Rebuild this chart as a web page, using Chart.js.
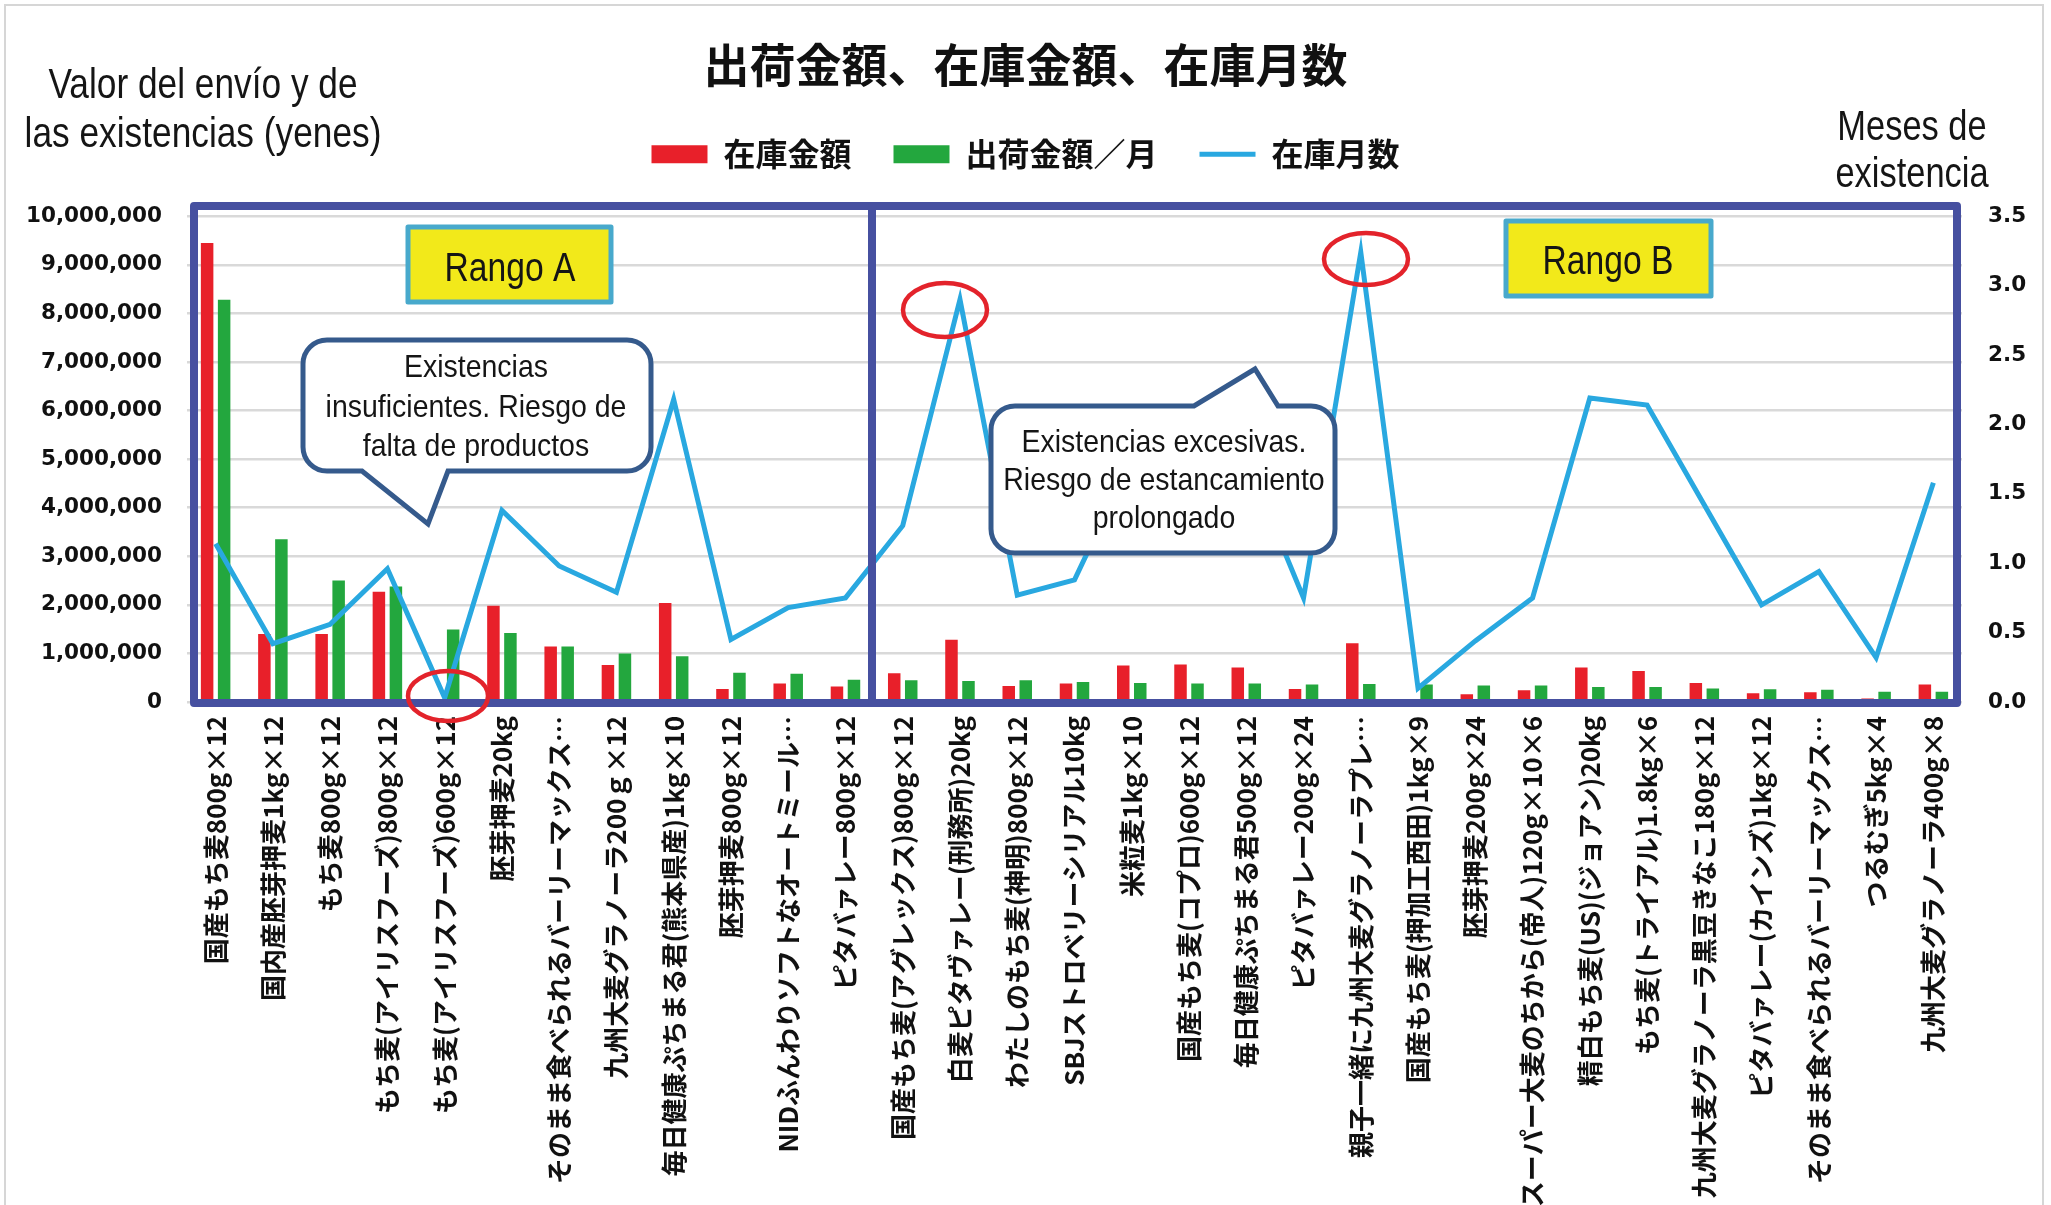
<!DOCTYPE html>
<html>
<head>
<meta charset="utf-8">
<script src="https://cdn.jsdelivr.net/npm/chart.js@4.4.1/dist/chart.umd.min.js"></script>
<style>
html,body{margin:0;padding:0;background:#fff;overflow:hidden}
#wrap{width:2051px;height:1205px;position:relative}
</style>
</head>
<body>
<div id="wrap"><canvas id="c" width="2051" height="1205"></canvas></div>
<script>
// ---------- data ----------
const categories = [
  "国産もち麦800g×12",
  "国内産胚芽押麦1kg×12",
  "もち麦800g×12",
  "もち麦(アイリスフーズ)800g×12",
  "もち麦(アイリスフーズ)600g×12",
  "胚芽押麦20kg",
  "そのまま食べられるバーリーマックス…",
  "九州大麦グラノーラ200ｇ×12",
  "毎日健康ぷちまる君(熊本県産)1kg×10",
  "胚芽押麦800g×12",
  "NIDふんわりソフトなオートミール…",
  "ピタバァレー800g×12",
  "国産もち麦(アグレックス)800g×12",
  "白麦ピタヴァレー(刑務所)20kg",
  "わたしのもち麦(神明)800g×12",
  "SBJストロベリーシリアル10kg",
  "米粒麦1kg×10",
  "国産もち麦(コプロ)600g×12",
  "毎日健康ぷちまる君500g×12",
  "ピタバァレー200g×24",
  "親子一緒に九州大麦グラノーラプレ…",
  "国産もち麦(押加工西田)1kg×9",
  "胚芽押麦200g×24",
  "スーパー大麦のちから(帝人)120g×10×6",
  "精白もち麦(US)(ジョアン)20kg",
  "もち麦(トライアル)1.8kg×6",
  "九州大麦グラノーラ黒豆きなこ180g×12",
  "ピタバァレー(カインズ)1kg×12",
  "そのまま食べられるバーリーマックス…",
  "つるむぎ5kg×4",
  "九州大麦グラノーラ400g×8"
];
// 在庫金額 (yen)
const stockValue = [
  9450000, 1400000, 1400000, 2270000, 40000, 1980000, 1140000, 760000, 2040000, 270000, 380000, 320000,
  590000, 1280000, 330000, 380000, 750000, 770000, 710000, 270000, 1210000, 36000, 160000, 240000,
  710000, 640000, 390000, 180000, 200000, 70000, 360000
];
// 出荷金額／月 (yen)
const shipValue = [
  8280000, 3350000, 2500000, 2380000, 1490000, 1420000, 1140000, 1000000, 940000, 600000, 580000, 460000,
  450000, 430000, 450000, 410000, 390000, 380000, 380000, 360000, 370000, 360000, 340000, 340000,
  310000, 310000, 280000, 260000, 250000, 210000, 210000
];
// 在庫月数 (months)
const stockMonths = [
  1.14, 0.42, 0.56, 0.96, 0.03, 1.38, 0.98, 0.79, 2.18, 0.45, 0.68, 0.75,
  1.27, 2.90, 0.77, 0.88, 1.75, 1.95, 1.75, 0.75, 3.24, 0.10, 0.44, 0.75,
  2.19, 2.14, 1.42, 0.70, 0.94, 0.32, 1.58
];
const seriesNames = ["在庫金額", "出荷金額／月", "在庫月数"];
const chartTitle = "出荷金額、在庫金額、在庫月数";
const leftAxisMax = 10000000, leftAxisStep = 1000000;
const rightAxisMax = 3.5, rightAxisStep = 0.5;
const leftAxisTitle = ["Valor del envío y de", "las existencias (yenes)"];
const rightAxisTitle = ["Meses de", "existencia"];
const calloutLow = ["Existencias", "insuficientes. Riesgo de", "falta de productos"];
const calloutHigh = ["Existencias excesivas.", "Riesgo de estancamiento", "prolongado"];
const rangeLabels = ["Rango A", "Rango B"];

// ---------- helpers ----------
function narrowText(ctx, text, x, y, size, sx, weight) {
  ctx.save();
  ctx.translate(x, y);
  ctx.scale(sx, 1);
  ctx.font = (weight || 'normal') + ' ' + size + "px 'Liberation Sans', Arial, sans-serif";
  ctx.textAlign = 'center';
  ctx.textBaseline = 'alphabetic';
  ctx.fillStyle = '#151515';
  ctx.fillText(text, 0, 0);
  ctx.restore();
}

const bgPlugin = {
  id: 'bg',
  beforeDraw(chart) {
    const ctx = chart.ctx;
    ctx.save();
    ctx.fillStyle = '#ffffff';
    ctx.fillRect(0, 0, chart.width, chart.height);
    ctx.strokeStyle = '#d6d6d6';
    ctx.lineWidth = 2;
    ctx.strokeRect(5, 5, 2038, 1215);
    ctx.restore();
  }
};

const annotPlugin = {
  id: 'annot',
  afterDraw(chart) {
    const ctx = chart.ctx;
    ctx.save();
    // axis titles
    narrowText(ctx, leftAxisTitle[0], 203, 98, 42, 0.84);
    narrowText(ctx, leftAxisTitle[1], 203, 147, 42, 0.84);
    narrowText(ctx, rightAxisTitle[0], 1912, 140, 42, 0.82);
    narrowText(ctx, rightAxisTitle[1], 1912, 187, 42, 0.82);

    // range frames
    ctx.strokeStyle = '#4650a0';
    ctx.lineWidth = 8;
    ctx.lineJoin = 'round';
    ctx.strokeRect(194, 206, 678, 497);
    ctx.strokeRect(872, 206, 1085, 497);

    // range label boxes
    const rb = [[408, 227, 203, 75, 510, 281], [1506, 221, 205, 75, 1608, 274]];
    rb.forEach((b, i) => {
      ctx.fillStyle = '#f2e91a';
      ctx.fillRect(b[0], b[1], b[2], b[3]);
      ctx.strokeStyle = '#48a9cc';
      ctx.lineWidth = 5;
      ctx.strokeRect(b[0], b[1], b[2], b[3]);
      narrowText(ctx, rangeLabels[i], b[4], b[5], 41, 0.82);
    });

    // callouts
    function callout(L, T, R, B, r, tail, top) {
      ctx.beginPath();
      ctx.moveTo(L + r, T);
      if (top) { ctx.lineTo(tail[0], T); ctx.lineTo(tail[1], tail[2]); ctx.lineTo(tail[3], T); }
      ctx.lineTo(R - r, T);
      ctx.arcTo(R, T, R, T + r, r);
      ctx.lineTo(R, B - r);
      ctx.arcTo(R, B, R - r, B, r);
      if (!top) { ctx.lineTo(tail[3], B); ctx.lineTo(tail[1], tail[2]); ctx.lineTo(tail[0], B); }
      ctx.lineTo(L + r, B);
      ctx.arcTo(L, B, L, B - r, r);
      ctx.lineTo(L, T + r);
      ctx.arcTo(L, T, L + r, T, r);
      ctx.closePath();
      ctx.fillStyle = '#ffffff';
      ctx.fill();
      ctx.strokeStyle = '#355a8c';
      ctx.lineWidth = 5;
      ctx.lineJoin = 'miter';
      ctx.stroke();
    }
    callout(303, 340, 651, 471, 24, [362, 428, 524, 448], false);
    narrowText(ctx, calloutLow[0], 476, 377, 32, 0.89);
    narrowText(ctx, calloutLow[1], 476, 417, 32, 0.89);
    narrowText(ctx, calloutLow[2], 476, 456, 32, 0.89);

    callout(991, 406, 1335, 553, 24, [1194, 1255, 369, 1278], true);
    narrowText(ctx, calloutHigh[0], 1164, 452, 32, 0.89);
    narrowText(ctx, calloutHigh[1], 1164, 490, 32, 0.89);
    narrowText(ctx, calloutHigh[2], 1164, 528, 32, 0.89);

    // red ellipses
    ctx.strokeStyle = '#e3232b';
    ctx.lineWidth = 4.5;
    [[448, 696, 40, 25], [945, 310, 42, 27], [1366, 259, 42, 26]].forEach(e => {
      ctx.beginPath();
      ctx.ellipse(e[0], e[1], e[2], e[3], 0, 0, Math.PI * 2);
      ctx.stroke();
    });
    ctx.restore();
  }
};

const tickFont = { family: "'DejaVu Sans', sans-serif", size: 21.5, weight: 'bold' };
const cjk = "'Noto Sans CJK JP', 'Noto Sans CJK SC', sans-serif";

new Chart(document.getElementById('c'), {
  data: {
    labels: categories,
    datasets: [
      {
        type: 'bar', label: seriesNames[0], data: stockValue, yAxisID: 'y',
        backgroundColor: '#e8202a', borderWidth: 0, order: 1,
        categoryPercentage: 0.594, barPercentage: 0.735
      },
      {
        type: 'bar', label: seriesNames[1], data: shipValue, yAxisID: 'y',
        backgroundColor: '#23a73e', borderWidth: 0, order: 2,
        categoryPercentage: 0.594, barPercentage: 0.735
      },
      {
        type: 'line', label: seriesNames[2], data: stockMonths, yAxisID: 'y1',
        borderColor: '#29a8e0', backgroundColor: '#29a8e0', borderWidth: 5,
        pointRadius: 0, tension: 0, order: 0, pointStyle: 'line', borderJoinStyle: 'miter'
      }
    ]
  },
  options: {
    responsive: false,
    animation: false,
    layout: { padding: { top: 8, left: 0, right: 0, bottom: 0 } },
    plugins: {
      tooltip: { enabled: false },
      title: {
        display: true, text: chartTitle, color: '#111',
        font: { family: cjk, size: 46, weight: 'bold', lineHeight: 1.2 },
        padding: { top: 29, bottom: 4 }
      },
      subtitle: {
        display: true, text: ' ', weight: 100,
        font: { size: 10, lineHeight: 1 },
        padding: { top: 26, bottom: 0 }
      },
      legend: {
        display: true, position: 'top',
        labels: {
          usePointStyle: true, pointStyleWidth: 56, boxHeight: 18, padding: 42,
          color: '#111', font: { family: cjk, size: 32, weight: 'bold' },
          sort: (a, b) => a.datasetIndex - b.datasetIndex,
          generateLabels(chart) {
            const items = Chart.defaults.plugins.legend.labels.generateLabels(chart);
            items.forEach(it => {
              if (it.datasetIndex === 2) { it.pointStyle = 'line'; it.lineWidth = 5; it.strokeStyle = '#29a8e0'; }
              else { it.pointStyle = 'rect'; it.lineWidth = 0; }
            });
            return items;
          }
        }
      }
    },
    scales: {
      x: {
        afterFit: s => { s.height = 503; },
        grid: { display: false, drawTicks: false },
        border: { display: false },
        ticks: {
          autoSkip: false, maxRotation: 90, minRotation: 90, padding: 14,
          color: '#111', font: { family: cjk, size: 26, weight: 'bold' }
        }
      },
      y: {
        position: 'left', min: 0, max: leftAxisMax,
        afterFit: s => { s.width = 187; },
        grid: { color: '#d9d9d9', lineWidth: 2.5, drawTicks: false },
        border: { display: false },
        ticks: {
          stepSize: leftAxisStep, padding: 25, color: '#111', font: tickFont,
          callback: v => Number(v).toLocaleString('en-US')
        }
      },
      y1: {
        position: 'right', min: 0, max: rightAxisMax,
        afterFit: s => { s.width = 89; },
        grid: { display: false, drawTicks: false },
        border: { display: false },
        ticks: {
          stepSize: rightAxisStep, padding: 26, color: '#111', font: tickFont,
          callback: v => Number(v).toFixed(1)
        }
      }
    }
  },
  plugins: [bgPlugin, annotPlugin]
});
</script>
</body>
</html>
